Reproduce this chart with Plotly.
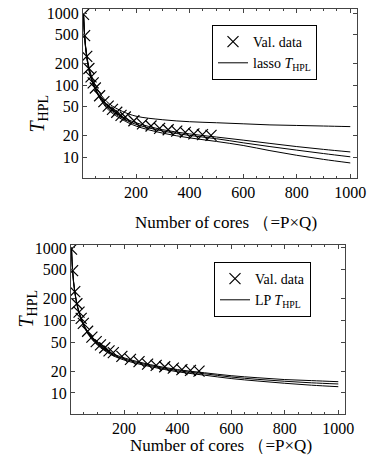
import plotly.graph_objects as go

# ---- data ----
val_cores = [4, 8, 16, 24, 32, 40, 48, 64, 80, 96, 112, 128, 144, 160, 192, 224, 256, 288, 320, 352, 384, 416, 448, 480]
val_time = [960, 485, 250, 170, 130, 107, 91, 71, 59, 51, 46, 42, 38, 36, 32, 29, 27, 25, 24, 23, 22, 21, 20.5, 20]

line_cores = [4, 8, 16, 32, 64, 100, 150, 200, 300, 400, 500, 600, 700, 800, 900, 1000]
lasso_a = [980, 500, 260, 140, 78, 55, 43, 37, 33, 31, 30, 29, 28, 27.5, 27, 26.5]
lasso_b = [960, 490, 250, 130, 70, 48, 36, 30, 24, 21, 19, 17.2, 15.5, 14, 12.8, 11.8]
lasso_c = [950, 480, 245, 127, 68, 46, 34.5, 28.5, 23, 20, 18, 15.8, 14, 12.5, 11.2, 10.1]
lasso_d = [940, 470, 240, 123, 66, 44, 33, 27, 21.5, 18.5, 16.5, 14.5, 12.3, 10.6, 9.3, 8.3]

lp_a = [980, 495, 255, 132, 70, 48, 36, 30.5, 24.5, 21, 19, 17.3, 16.2, 15.3, 14.8, 14.3]
lp_b = [960, 485, 250, 129, 68, 47, 35, 29.5, 23.8, 20.3, 18.4, 16.6, 15.4, 14.5, 13.8, 13.3]
lp_c = [940, 475, 245, 126, 66, 46, 34, 28.5, 23, 19.6, 17.6, 15.8, 14.6, 13.6, 12.8, 12.2]

x_ticks = [200, 400, 600, 800, 1000]
y_ticks = [10, 20, 50, 100, 200, 500, 1000]

W, H = 372, 468
FONT = "Liberation Serif, Times New Roman, DejaVu Serif, serif"

fig = go.Figure()

def add_lines(series, name, xa, ya, legend):
    first = True
    for s in series:
        fig.add_trace(go.Scatter(
            x=line_cores, y=s, mode="lines", line=dict(color="black", width=1, shape="spline"),
            name=name, showlegend=first, xaxis=xa, yaxis=ya, legend=legend,
            legendrank=2))
        first = False

def add_val(xa, ya, legend):
    fig.add_trace(go.Scatter(
        x=val_cores, y=val_time, mode="markers", name="Val. data",
        marker=dict(symbol="x-thin", size=11, color="black", line=dict(width=1.2, color="black")),
        xaxis=xa, yaxis=ya, legend=legend, legendrank=1))

add_val("x", "y", "legend")
add_lines([lasso_a, lasso_b, lasso_c, lasso_d], "lasso <i>T</i><sub>HPL</sub>", "x", "y", "legend")
add_val("x2", "y2", "legend2")
add_lines([lp_a, lp_b, lp_c], "LP <i>T</i><sub>HPL</sub>", "x2", "y2", "legend2")

def px_x(v):
    return v / W

def px_y(v):
    return 1 - v / H

axis_common = dict(
    showgrid=False, zeroline=False, showline=True, linecolor="#444", linewidth=1,
    mirror="ticks", ticks="inside", ticklen=4, tickcolor="#444", automargin=False,
    tickfont=dict(family=FONT, size=16, color="black"),
)

xcommon = dict(axis_common, range=[2, 1025], tickvals=x_ticks,
               minor=dict(dtick=50, tick0=0, ticks="inside", ticklen=2, tickcolor="#444"))
ycommon = dict(axis_common, type="log", tickvals=y_ticks, ticktext=[str(v) for v in y_ticks])

fig.update_layout(
    width=W, height=H, margin=dict(l=0, r=0, t=0, b=0, autoexpand=False),
    paper_bgcolor="white", plot_bgcolor="white",
    font=dict(family=FONT, color="black"),
    xaxis=dict(xcommon, domain=[px_x(83), px_x(357)], anchor="y"),
    yaxis=dict(ycommon, domain=[px_y(178), px_y(9)], anchor="x", range=[0.71, 3.056]),
    xaxis2=dict(xcommon, domain=[px_x(71), px_x(345)], anchor="y2"),
    yaxis2=dict(ycommon, domain=[px_y(414), px_y(245)], anchor="x2", range=[0.71, 3.04]),
    legend=dict(x=px_x(212), y=px_y(25), xanchor="left", yanchor="top",
                bordercolor="black", borderwidth=1, bgcolor="white",
                font=dict(family=FONT, size=14, color="black"), tracegroupgap=0),
    legend2=dict(x=px_x(214), y=px_y(262), xanchor="left", yanchor="top",
                 bordercolor="black", borderwidth=1, bgcolor="white",
                 font=dict(family=FONT, size=14, color="black"), tracegroupgap=0),
    showlegend=True,
)

ytitle = "<i>T</i><sub>HPL</sub>"
xtitle = "Number of cores \uff08=P×Q)"
fig.add_annotation(text=ytitle, x=px_x(24), y=px_y(93), xref="paper", yref="paper",
                   textangle=-90, showarrow=False, font=dict(family=FONT, size=20))
fig.add_annotation(text=ytitle, x=px_x(12), y=px_y(330), xref="paper", yref="paper",
                   textangle=-90, showarrow=False, font=dict(family=FONT, size=20))
fig.add_annotation(text=xtitle, x=px_x(226), y=px_y(222), xref="paper", yref="paper",
                   showarrow=False, font=dict(family=FONT, size=17))
fig.add_annotation(text=xtitle, x=px_x(221), y=px_y(457), xref="paper", yref="paper",
                   showarrow=False, font=dict(family=FONT, size=17))

fig.write_html("out.html", config={"displayModeBar": False},
               post_script="document.body.style.margin='0';document.body.style.overflow='hidden';")
